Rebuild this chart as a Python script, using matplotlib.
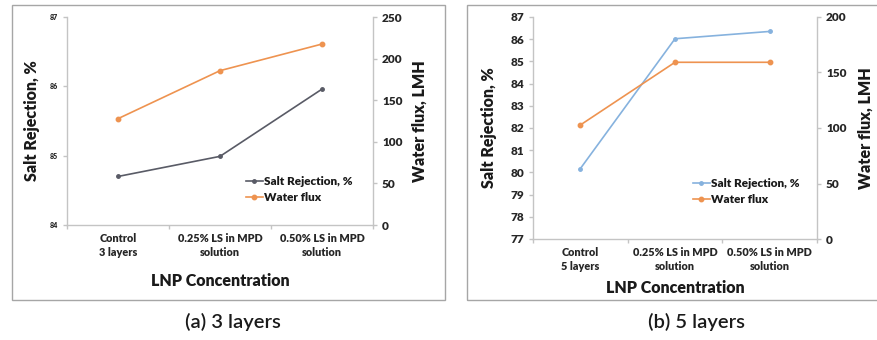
import matplotlib.pyplot as plt
from matplotlib.patches import Rectangle

plt.rcParams['font.family'] = ['Lato', 'DejaVu Sans']

categories_a = ["Control\n3 layers", "0.25% LS in MPD\nsolution", "0.50% LS in MPD\nsolution"]
categories_b = ["Control\n5 layers", "0.25% LS in MPD\nsolution", "0.50% LS in MPD\nsolution"]
salt_a = [84.70, 84.99, 85.96]
flux_a = [127.8, 185.5, 217.5]
salt_b = [80.17, 86.02, 86.35]
flux_b = [102.7, 159.2, 159.2]

W, H = 877, 340
fig = plt.figure(figsize=(W / 100, H / 100), dpi=100)

def fx(px): return px / W
def fy(py): return 1 - py / H

# panel frames
for x0, x1 in [(12, 445), (467, 880)]:
    fig.patches.append(Rectangle((fx(x0), fy(300)), fx(x1 - x0), fy(5) - fy(300),
                                 transform=fig.transFigure, fill=False,
                                 edgecolor='#a6a6a6', linewidth=1.0))

spine_c = '#c4c4c4'
text_c = '#262626'
orange = '#EE9350'

def style(ax, ax2):
    ax.spines['top'].set_visible(False)
    ax2.spines['top'].set_visible(False)
    ax.spines['right'].set_visible(False)
    ax2.spines['left'].set_visible(False)
    ax2.spines['bottom'].set_visible(False)
    for sp in [ax.spines['left'], ax.spines['bottom'], ax2.spines['right']]:
        sp.set_color(spine_c)
        sp.set_linewidth(1.0)
    ax.tick_params(axis='both', which='major', color=spine_c, length=3, width=1)
    ax2.tick_params(axis='y', which='major', color=spine_c, length=3, width=1)
    ax.set_xlim(0.5, 3.5)
    ax.set_xticks([0.5, 1.5, 2.5, 3.5])
    ax.set_xticklabels([])
    ax.set_xticks([1, 2, 3], minor=True)
    ax.tick_params(axis='x', which='minor', length=0, pad=6)

def draw(left, right, bottom, top, cats, salt, flux, salt_col, ylim, yticks, y2lim, y2ticks,
         left_fs, xlabel_y, cap_x, lab_left_x, lab_right_x, leg_anchor, caption):
    ax = fig.add_axes([fx(left), fy(bottom), fx(right - left), fy(top) - fy(bottom)])
    ax2 = ax.twinx()
    x = [1, 2, 3]
    l1, = ax.plot(x, salt, color=salt_col, marker='o', markersize=2.5, linewidth=1.2,
                  label='Salt Rejection, %')
    l2, = ax2.plot(x, flux, color=orange, marker='o', markersize=3.2, linewidth=1.2,
                   label='Water flux')
    ax.set_ylim(*ylim)
    ax.set_yticks(yticks)
    ax.set_yticklabels([str(v) for v in yticks], fontsize=left_fs, fontweight='heavy', color=text_c)
    ax2.set_ylim(*y2lim)
    ax2.set_yticks(y2ticks)
    ax2.set_yticklabels([str(v) for v in y2ticks], fontsize=8.5, fontweight='heavy', color=text_c)
    style(ax, ax2)
    ax.set_xticklabels(cats, minor=True, fontsize=7.8, fontweight='heavy', color=text_c,
                       linespacing=1.3)
    fig.text(fx(lab_left_x), fy((top + bottom) / 2), 'Salt Rejection, %', rotation=90,
             ha='center', va='center', fontsize=11.5, fontweight='heavy', color='#1a1a1a')
    fig.text(fx(lab_right_x), fy((top + bottom) / 2), 'Water flux, LMH', rotation=90,
             ha='center', va='center', fontsize=11.5, fontweight='heavy', color='#1a1a1a')
    fig.text(fx((left + right) / 2), fy(xlabel_y), 'LNP Concentration', ha='center',
             va='center', fontsize=11.5, fontweight='heavy', color='#1a1a1a')
    fig.text(fx(cap_x), fy(322), caption, ha='center', va='center', fontsize=14.5,
             fontweight='semibold', color='#1a1a1a')
    leg = ax.legend(handles=[l1, l2], loc='upper left', bbox_to_anchor=leg_anchor,
                    bbox_transform=fig.transFigure, frameon=False, fontsize=8.5,
                    handlelength=1.4, handletextpad=0.1, labelspacing=0.45,
                    borderaxespad=0, borderpad=0)
    for t in leg.get_texts():
        t.set_fontweight('heavy')
        t.set_color('#1a1a1a')
    return ax, ax2

draw(67, 373, 225, 17, categories_a, salt_a, flux_a, '#595b66',
     (84, 87), [84, 85, 86, 87], (0, 250), [0, 50, 100, 150, 200, 250],
     5, 281, 233, 32, 420, (fx(246), fy(176)), '(a) 3 layers')
draw(533, 817, 239, 17, categories_b, salt_b, flux_b, '#86B2DE',
     (77, 87), list(range(77, 88)), (0, 200), [0, 50, 100, 150, 200],
     8.5, 288, 697, 489, 866, (fx(693), fy(178)), '(b) 5 layers')

fig.savefig('out.png', dpi=100)
